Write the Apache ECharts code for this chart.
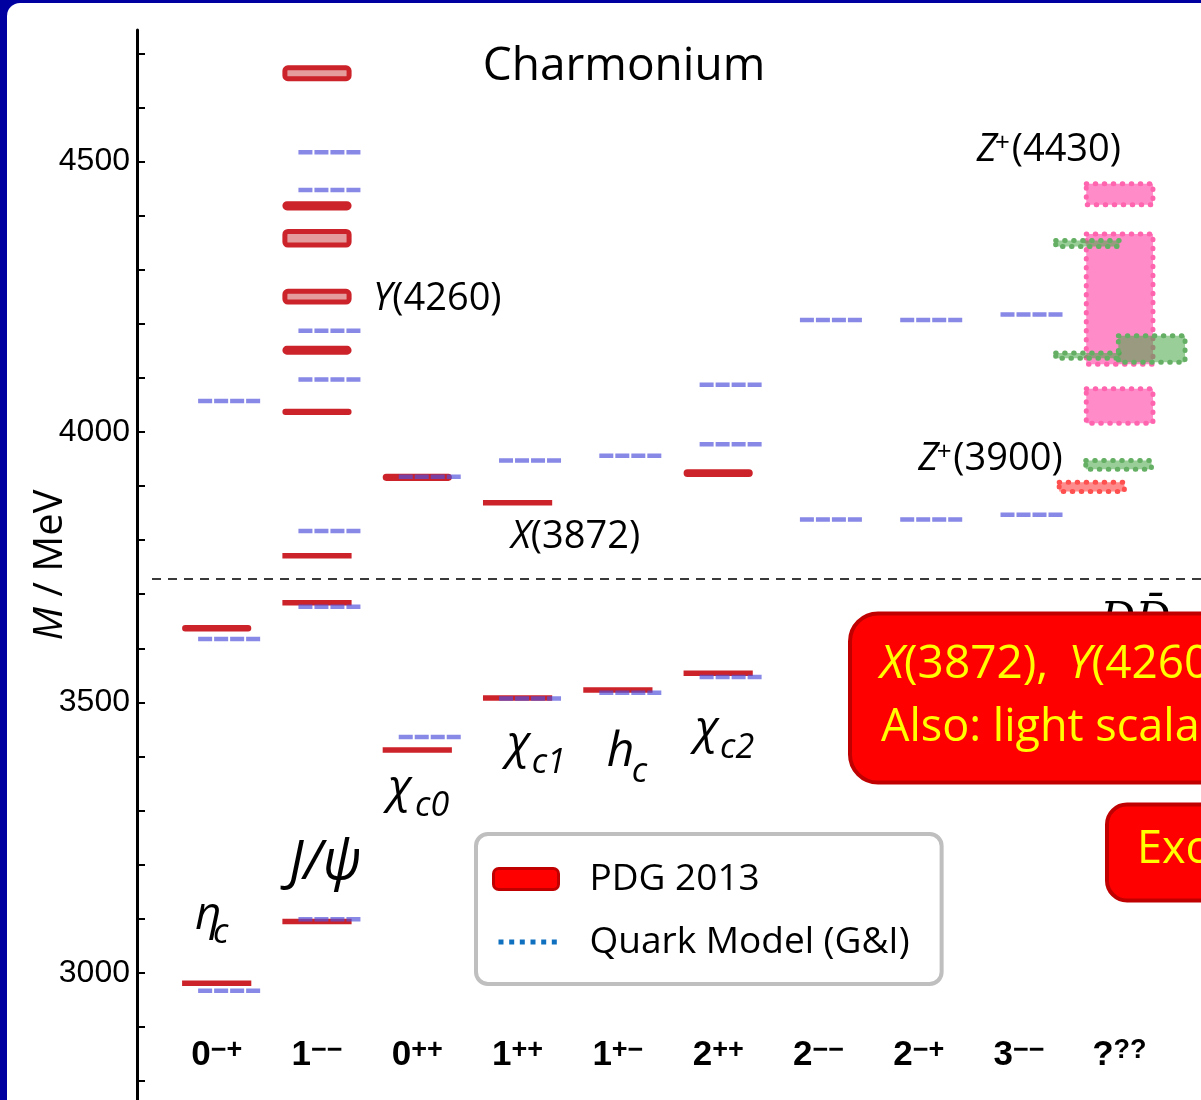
<!DOCTYPE html>
<html>
<head>
<meta charset="utf-8">
<title>Charmonium</title>
<script src="https://cdn.jsdelivr.net/npm/echarts@6.0.0/dist/echarts.min.js"></script>
<style>
html, body { margin: 0; padding: 0; background: #0000a0; }
#chart { width: 1201px; height: 1100px; }
</style>
</head>
<body>
<div id="chart"></div>
<script>
// ---------------- data ----------------
const categoryBase = ['0', '1', '0', '1', '1', '2', '2', '2', '3', '?'];
const categorySup  = ['\u2212+', '\u2212\u2212', '++', '++', '+\u2212', '++', '\u2212\u2212', '\u2212+', '\u2212\u2212', '??'];
const categoryIndex = [0, 1, 2, 3, 4, 5, 6, 7, 8, 9];
const yTickValues  = [2800, 2900, 3000, 3100, 3200, 3300, 3400, 3500, 3600, 3700, 3800, 3900, 4000, 4100, 4200, 4300, 4400, 4500, 4600, 4700];
const yLabelValues = [3000, 3500, 4000, 4500];

// PDG 2013 states: category index, mass (MeV), mass uncertainty (MeV)
const pdgCategory = [0, 0, 1, 1, 1, 1, 1, 1, 1, 1, 1, 2, 2, 3, 3, 4, 5, 5];
const pdgMass     = [2981, 3637, 3095, 3684, 3771, 4037, 4151, 4250, 4358, 4418, 4663, 3412, 3916, 3508, 3869, 3523, 3554, 3924];
const pdgError    = [0.5, 1.3, 0.1, 0.1, 0.3, 1.0, 3.5, 10, 12.5, 4, 10, 0.3, 1.9, 0.1, 0.2, 0.2, 0.2, 2.6];

// Godfrey-Isgur quark model levels: category index, mass (MeV)
const qmCategory = [0, 0, 0, 1, 1, 1, 1, 1, 1, 1, 2, 2, 3, 3, 4, 4, 5, 5, 5, 6, 6, 7, 7, 8, 8];
const qmMass     = [2967, 3617, 4057, 3099, 3677, 3817, 4097, 4187, 4447, 4517, 3436, 3917, 3507, 3947, 3518, 3956, 3547, 3977, 4087, 3838, 4207, 3838, 4207, 3847, 4217];

// exotic candidates in the ?^?? column: [low, high] (MeV)
const exoticPink        = [[4420, 4459], [4125, 4366], [4016, 4080]];
const exoticRed         = [[3890, 3907]];
const exoticGreenCenter = [[3931, 3947]];
const exoticGreenLeft   = [[4343, 4354], [4136, 4146]];
const exoticGreenRight  = [[4129, 4178]];
const exoticColumn = 9;

const ddbarThreshold = 3728;

// ---------------- styling / layout ----------------
const X_MIN = -0.7946, X_MAX = 9.814;
const PDG_RED = '#cc2229';
const exoticStyles = [
  { data: exoticPink,        span: [-0.33, 0.335], fill: '#ff8cc8',               stroke: '#ff64af' },
  { data: exoticRed,         span: [-0.60, 0.05],  fill: '#ff8c8c',               stroke: '#ff5050' },
  { data: exoticGreenCenter, span: [-0.335, 0.32], fill: 'rgba(70,165,70,0.55)',  stroke: '#64af64' },
  { data: exoticGreenLeft,   span: [-0.635, 0.0],  fill: 'rgba(70,165,70,0.55)',  stroke: '#64af64' },
  { data: exoticGreenRight,  span: [-0.01, 0.655], fill: 'rgba(70,165,70,0.55)',  stroke: '#64af64' }
];

const pdgData = pdgMass.map((m, k) => [pdgCategory[k], m, pdgError[k]]);
const qmData = qmMass.map((m, k) => [qmCategory[k], m]);
const exoticData = [];
exoticStyles.forEach((g, gi) => g.data.forEach(r => exoticData.push([exoticColumn, r[0], r[1], gi])));

function renderPDG(params, api) {
  const i = api.value(0), m = api.value(1), e = api.value(2);
  if (e < 0.8) {
    const a = api.coord([i - 0.345, m]), b = api.coord([i + 0.345, m]);
    return { type: 'rect', shape: { x: a[0], y: a[1] - 2.75, width: b[0] - a[0], height: 5.5 },
             style: { fill: PDG_RED } };
  }
  const a = api.coord([i - 0.32, m + e]), b = api.coord([i + 0.32, m - e]);
  const h = b[1] - a[1];
  return { type: 'rect', shape: { x: a[0], y: a[1], width: b[0] - a[0], height: h, r: Math.min(h / 2, 3) },
           style: { fill: '#e59c9c', stroke: PDG_RED, lineWidth: 5, lineJoin: 'round' } };
}

function renderQM(params, api) {
  const i = api.value(0), m = api.value(1);
  const a = api.coord([i - 0.185, m]), b = api.coord([i + 0.435, m]);
  return { type: 'line', shape: { x1: a[0], y1: a[1], x2: b[0], y2: b[1] },
           style: { stroke: 'rgba(80,80,220,0.68)', lineWidth: 4.5, lineDash: [14, 2] } };
}

function renderExotic(params, api) {
  const g = exoticStyles[api.value(3)];
  const c = api.value(0);
  const a = api.coord([c + g.span[0], api.value(2)]);
  const b = api.coord([c + g.span[1], api.value(1)]);
  return { type: 'rect', shape: { x: a[0], y: a[1], width: b[0] - a[0], height: b[1] - a[1] },
           style: { fill: g.fill, stroke: g.stroke, lineWidth: 5, lineDash: [0.5, 8.5], lineCap: 'round' } };
}

function renderThreshold(params, api) {
  const y = api.coord([0, api.value(0)])[1];
  const cs = params.coordSys;
  return { type: 'line', shape: { x1: cs.x + 15, y1: y, x2: cs.x + cs.width, y2: y },
           style: { stroke: '#3a3a3a', lineWidth: 2, lineDash: [9, 7] } };
}

// ---------------- annotations ----------------
const OS = 'Open Sans';
function t(x, y, text, size, extra) {
  return { type: 'text', x: x, y: y, z: 50,
           style: Object.assign({ text: text, fontFamily: OS, fontSize: size, fill: '#000',
                                  align: 'left', verticalAlign: 'middle' }, extra || {}) };
}
function it(x, y, text, size, extra) {
  return t(x, y, text, size, Object.assign({ fontStyle: 'italic' }, extra || {}));
}
const italicRich = (size, color) => ({ i: { fontFamily: OS, fontSize: size, fontStyle: 'italic', fill: color } });

const dotsIcon = 'path://M0,0L0.01,0L0,0.01Z M65,21L64.99,21L65,20.99Z ' +
  [5, 15.7, 26.3, 37, 47.7, 58.3].map(x => `M${x},8L${x + 5},8L${x + 5},13L${x},13Z`).join(' ');

const calloutRich = Object.assign(italicRich(46, '#ffff00'), { sp: { width: 20, fontSize: 46, fontFamily: OS } });

const graphics = [
  { type: 'rect', z: -10, shape: { x: 7, y: 3, width: 1300, height: 1200, r: [13, 0, 0, 0] }, style: { fill: '#ffffff' } },
  t(624, 66.5, 'Charmonium', 46, { align: 'center' }),
  t(373, 299, '{i|Y}(4260)', 38, { rich: italicRich(38, '#000') }),
  t(511, 537.5, '{i|X}(3872)', 38, { rich: italicRich(38, '#000') }),
  it(976.7, 150.5, 'Z', 38), t(995, 144, '+', 26), t(1011.7, 150.5, '(4430)', 38),
  it(918.3, 459, 'Z', 38), t(936.7, 452.5, '+', 26), t(953.3, 459, '(3900)', 38),
  // state names
  it(195, 916, '\u03b7', 46), it(213, 933.5, 'c', 34),
  it(289, 864, 'J/\u03c8', 54),
  it(388, 789, '\u03c7', 46), it(415, 806, 'c0', 34),
  it(506.7, 745, '\u03c7', 46), it(531.7, 763.5, 'c1', 34),
  it(606.7, 752, 'h', 48), it(631.7, 772, 'c', 34),
  it(695, 730, '\u03c7', 46), it(720, 748.5, 'c2', 34),
  // D Dbar threshold label (partly hidden by the callout)
  { type: 'text', x: 1100, y: 623, z: 40, style: { text: 'DD\u0304', fontFamily: 'DejaVu Serif', fontStyle: 'italic',
      fontSize: 44, fill: '#000', align: 'left', verticalAlign: 'middle' } },
  // callouts
  { type: 'rect', z: 60, shape: { x: 850, y: 613.5, width: 520, height: 169, r: 28 },
    style: { fill: '#ff0000', stroke: '#c00000', lineWidth: 4 } },
  { type: 'text', z: 61, x: 880, y: 665, style: { text: '{i|X}(3872),{sp|}{i|Y}(4260), {i|Z}(4430)', rich: calloutRich,
      fontFamily: OS, fontSize: 46, fill: '#ffff00', align: 'left', verticalAlign: 'middle' } },
  { type: 'text', z: 61, x: 881, y: 728.6, style: { text: 'Also: light scalars', fontFamily: OS, fontSize: 45,
      fill: '#ffff00', align: 'left', verticalAlign: 'middle' } },
  { type: 'rect', z: 60, shape: { x: 1107, y: 804.5, width: 200, height: 96, r: 20 },
    style: { fill: '#ff0000', stroke: '#c00000', lineWidth: 4 } },
  { type: 'text', z: 61, x: 1137, y: 850.6, style: { text: 'Exotic', fontFamily: OS, fontSize: 45,
      fill: '#ffff00', align: 'left', verticalAlign: 'middle' } }
];

const chart = echarts.init(document.getElementById('chart'));
chart.setOption({
  animation: false,
  backgroundColor: '#0000a0',
  textStyle: { fontFamily: OS },
  grid: { left: 137, right: 0, top: 30, bottom: 0, containLabel: false, outerBoundsMode: 'none' },
  xAxis: {
    type: 'value', min: X_MIN, max: X_MAX,
    axisLine: { show: false, onZero: false }, axisTick: { show: false }, splitLine: { show: false },
    axisLabel: {
      customValues: categoryIndex, inside: true, margin: 27,
      formatter: v => `{b|${categoryBase[Math.round(v)]}}{s|${categorySup[Math.round(v)]}}`,
      rich: {
        b: { fontFamily: 'Liberation Sans', fontWeight: 'bold', fontSize: 35, color: '#000', lineHeight: 36 },
        s: { fontFamily: 'Liberation Sans', fontWeight: 'bold', fontSize: 27, color: '#000', lineHeight: 25, verticalAlign: 'top' }
      }
    }
  },
  yAxis: {
    type: 'value', min: 2765, max: 4743,
    name: '{i|M} / MeV', nameLocation: 'middle', nameRotate: 90, nameGap: 66, nameMoveOverlap: false,
    nameTextStyle: { fontFamily: OS, fontSize: 40, color: '#000',
      rich: { i: { fontFamily: OS, fontSize: 40, fontStyle: 'italic', color: '#000' } } },
    axisLine: { show: true, onZero: false, lineStyle: { color: '#000', width: 3 } },
    axisTick: { show: true, inside: true, length: 8, customValues: yTickValues, lineStyle: { color: '#000', width: 2 } },
    axisLabel: { customValues: yLabelValues, margin: 7, fontFamily: 'Liberation Sans', fontSize: 32, color: '#000',
                 formatter: v => String(v) },
    splitLine: { show: false }
  },
  legend: {
    orient: 'vertical', left: 476, top: 834, padding: [25, 32, 22, 16],
    itemWidth: 65, itemHeight: 21, itemGap: 23, selectedMode: false,
    backgroundColor: '#ffffff', borderColor: '#bfbfbf', borderWidth: 4, borderRadius: 12,
    textStyle: { fontFamily: OS, fontSize: 37, color: '#000', lineHeight: 40, padding: [0, 0, 0, 26] },
    data: [
      { name: 'PDG 2013', icon: 'roundRect', itemStyle: { color: '#ff0000', borderColor: '#c00000', borderWidth: 3 } },
      { name: 'Quark Model (G&I)', icon: dotsIcon, itemStyle: { color: '#1070c0', borderWidth: 0 } }
    ]
  },
  graphic: graphics,
  series: [
    { name: 'DDbar threshold', type: 'custom', renderItem: renderThreshold, data: [[ddbarThreshold]], z: 1, silent: true },
    { name: 'Exotic candidates', type: 'custom', renderItem: renderExotic, data: exoticData, z: 2, silent: true },
    { name: 'PDG 2013', type: 'custom', renderItem: renderPDG, data: pdgData, z: 3, itemStyle: { color: '#ff0000' } },
    { name: 'Quark Model (G&I)', type: 'custom', renderItem: renderQM, data: qmData, z: 4, itemStyle: { color: '#1070c0' } }
  ]
});
</script>
</body>
</html>
